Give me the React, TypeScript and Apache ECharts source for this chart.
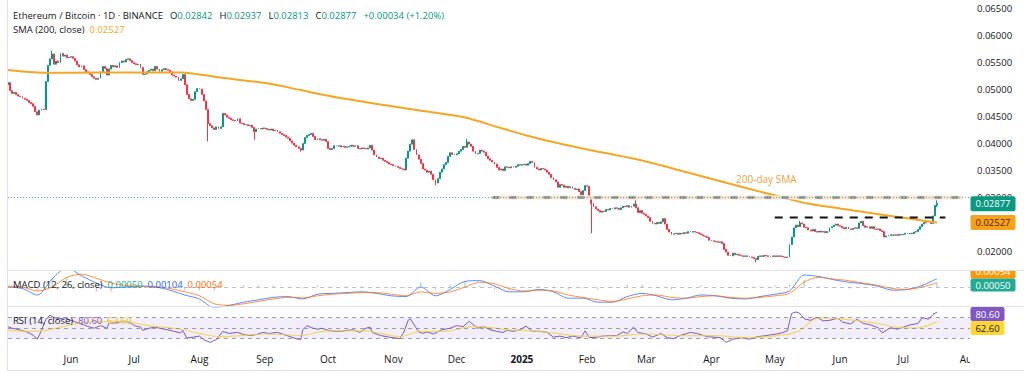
import React, { useEffect, useRef } from "react";
import * as echarts from "echarts";

// ---------- DATA ----------
const firstCandleDate = "2024-05-02";
const firstOpen = 0.0508;

const closesMay2024 = [0.0512, 0.0497, 0.0492, 0.0494, 0.049, 0.0487, 0.0486, 0.0483, 0.0481, 0.0479, 0.0475, 0.0473, 0.0468, 0.0458, 0.0452, 0.0461, 0.0463, 0.0462, 0.0514, 0.0544, 0.0556, 0.0565, 0.0546, 0.0552, 0.0549, 0.0566, 0.0561, 0.0563, 0.0558, 0.0559];
const closesJun2024 = [0.056, 0.0557, 0.0552, 0.0545, 0.0541, 0.0543, 0.0536, 0.0532, 0.053, 0.0527, 0.0523, 0.052, 0.0518, 0.052, 0.0532, 0.0542, 0.0538, 0.0526, 0.0537, 0.0544, 0.0541, 0.0543, 0.054, 0.0549, 0.0552, 0.055, 0.0555, 0.0556, 0.0553, 0.0549];
const closesJul2024 = [0.0547, 0.0545, 0.0546, 0.054, 0.0527, 0.0528, 0.0532, 0.0535, 0.0537, 0.0534, 0.0542, 0.0537, 0.0533, 0.0536, 0.0538, 0.0536, 0.0535, 0.0532, 0.0526, 0.0524, 0.0522, 0.0516, 0.0519, 0.0527, 0.0508, 0.049, 0.0482, 0.0479, 0.0481, 0.0495, 0.0501];
const closesAug2024 = [0.05, 0.049, 0.0478, 0.0462, 0.0436, 0.0432, 0.0428, 0.0425, 0.043, 0.0427, 0.043, 0.0455, 0.0452, 0.0448, 0.0446, 0.0443, 0.0442, 0.0441, 0.0445, 0.0437, 0.0436, 0.0434, 0.0434, 0.0432, 0.0433, 0.0429, 0.0421, 0.0426, 0.0427, 0.0426, 0.0428];
const closesSep2024 = [0.0427, 0.0425, 0.0424, 0.0426, 0.0423, 0.0424, 0.0421, 0.0418, 0.0416, 0.0414, 0.0411, 0.0409, 0.0404, 0.04, 0.0396, 0.0393, 0.039, 0.0387, 0.0399, 0.041, 0.0414, 0.0416, 0.0418, 0.0412, 0.0406, 0.0408, 0.0406, 0.0405, 0.0407, 0.0403];
const closesOct2024 = [0.039, 0.0388, 0.039, 0.0395, 0.0394, 0.0395, 0.0393, 0.0394, 0.0392, 0.0393, 0.0394, 0.0396, 0.0394, 0.0395, 0.039, 0.0389, 0.0391, 0.039, 0.0389, 0.0391, 0.0396, 0.0387, 0.0378, 0.0374, 0.0371, 0.0372, 0.0368, 0.0366, 0.0364, 0.0361, 0.036];
const closesNov2024 = [0.0358, 0.0357, 0.0355, 0.0353, 0.0352, 0.035, 0.0372, 0.0385, 0.0398, 0.0406, 0.0388, 0.0378, 0.037, 0.0362, 0.0352, 0.035, 0.0346, 0.0348, 0.0342, 0.0332, 0.0326, 0.0334, 0.0346, 0.0352, 0.036, 0.0364, 0.0375, 0.0382, 0.0379, 0.0378];
const closesDec2024 = [0.038, 0.0385, 0.0388, 0.0394, 0.0392, 0.0402, 0.0398, 0.0394, 0.0385, 0.038, 0.0381, 0.0387, 0.0385, 0.0383, 0.0376, 0.0371, 0.0368, 0.0365, 0.0361, 0.0355, 0.035, 0.0352, 0.0349, 0.0356, 0.0355, 0.0354, 0.0356, 0.0355, 0.0357, 0.036, 0.0359];
const closesJan2025 = [0.036, 0.0361, 0.0359, 0.0362, 0.0366, 0.0364, 0.0355, 0.0352, 0.035, 0.0353, 0.0352, 0.035, 0.0346, 0.0342, 0.0336, 0.0332, 0.0328, 0.0318, 0.0323, 0.0322, 0.0318, 0.032, 0.0317, 0.0319, 0.0316, 0.0314, 0.0315, 0.031, 0.0304, 0.0312, 0.0321];
const closesFeb2025 = [0.032, 0.03, 0.0288, 0.0282, 0.0278, 0.0275, 0.0272, 0.0274, 0.0273, 0.0277, 0.0276, 0.0279, 0.0278, 0.028, 0.0279, 0.0277, 0.028, 0.0283, 0.0282, 0.0284, 0.0281, 0.0283, 0.0287, 0.028, 0.0271, 0.0275, 0.027, 0.0268];
const closesMar2025 = [0.0265, 0.0262, 0.0255, 0.0251, 0.025, 0.0253, 0.0251, 0.0254, 0.026, 0.025, 0.024, 0.0235, 0.0231, 0.0232, 0.0233, 0.0231, 0.0233, 0.0232, 0.0234, 0.0233, 0.0236, 0.0235, 0.0236, 0.0235, 0.0234, 0.0232, 0.023, 0.0228, 0.0227, 0.0225, 0.022];
const closesApr2025 = [0.0219, 0.0218, 0.0217, 0.0216, 0.0217, 0.0214, 0.0203, 0.0198, 0.0192, 0.0191, 0.0196, 0.0193, 0.0194, 0.0192, 0.0191, 0.019, 0.0191, 0.019, 0.0189, 0.0188, 0.0186, 0.0184, 0.019, 0.0191, 0.019, 0.0192, 0.0191, 0.019, 0.0191, 0.019];
const closesMay2025 = [0.0191, 0.019, 0.0191, 0.019, 0.0189, 0.0188, 0.0189, 0.0212, 0.0226, 0.0243, 0.0248, 0.0245, 0.0252, 0.025, 0.0244, 0.0243, 0.0239, 0.0237, 0.024, 0.0236, 0.0235, 0.0237, 0.0235, 0.0236, 0.0234, 0.0236, 0.0243, 0.0245, 0.0248, 0.025, 0.0247];
const closesJun2025 = [0.0246, 0.0243, 0.0241, 0.0244, 0.0241, 0.024, 0.0242, 0.0243, 0.0242, 0.0252, 0.0255, 0.0247, 0.0244, 0.0245, 0.0242, 0.0245, 0.0241, 0.024, 0.0241, 0.0238, 0.0236, 0.0226, 0.0228, 0.0229, 0.023, 0.0229, 0.023, 0.0229, 0.0231, 0.023];
const closesJul2025 = [0.0231, 0.0233, 0.0232, 0.0233, 0.0232, 0.0235, 0.0236, 0.024, 0.0245, 0.025, 0.0253, 0.0252, 0.0252, 0.0251, 0.0265, 0.02843, 0.02877];

const lastOpen = 0.02842;
const lastHigh = 0.02937;
const lastLow = 0.02813;
const lastClose = 0.02877;
const lastChange = "+0.00034 (+1.20%)";
const smaLast = 0.02527;

const wickDates = ["2024-05-23", "2024-08-05", "2024-08-27", "2024-09-18", "2024-11-21", "2024-12-06", "2025-02-03", "2025-02-24", "2025-04-22", "2025-05-13"];
const wickHighs = [0.0571, null, null, null, null, 0.0408, null, 0.0294, null, 0.0256];
const wickLows = [null, 0.0403, 0.0406, 0.0384, 0.0322, null, 0.0233, null, 0.0179, null];

// SMA(200), day offset from first candle
const smaDay = [0, 17, 44, 82, 91, 101, 123, 139, 148, 158, 194, 216, 234, 249, 265, 281, 300, 324, 348, 367, 379, 395, 411, 427, 441];
const smaValue = [0.05352, 0.05302, 0.05306, 0.05309, 0.05269, 0.05213, 0.05106, 0.04981, 0.04907, 0.04833, 0.04611, 0.04481, 0.04278, 0.04111, 0.03963, 0.03833, 0.03685, 0.03439, 0.03191, 0.03, 0.02883, 0.02787, 0.02694, 0.02606, 0.02527];

// MACD (weekly samples, day = 7 * index)
const macdLine = [0, -0.0002, -0.001, 0.001, 0.0024, 0.0014, 0.0005, -0.0001, 0, 0.0001, 0, -0.0004, -0.001, -0.0015, -0.0026, -0.0023, -0.0019, -0.0016, -0.0013, -0.0012, -0.0015, -0.0009, -0.0008, -0.0007, -0.0006, -0.0008, -0.0011, -0.0012, 0, -0.0011, -0.0003, 0.0007, 0.0008, 0.0001, -0.0006, -0.0006, -0.0003, -0.0006, -0.0014, -0.0014, -0.0019, -0.0019, -0.0012, -0.0008, -0.0011, -0.0016, -0.0014, -0.001, -0.0011, -0.0014, -0.0015, -0.0012, -0.0009, -0.0005, 0.0015, 0.0013, 0.0009, 0.0006, 0.0004, 0.0001, -0.0004, -0.0003, 0.0002, 0.00104];
const signalLine = [0.0001, 0, -0.0005, 0, 0.0012, 0.0016, 0.0011, 0.0005, 0.0002, 0.0001, 0.00005, -0.0002, -0.0006, -0.0011, -0.0021, -0.0023, -0.0021, -0.0018, -0.0015, -0.0013, -0.00135, -0.0011, -0.0009, -0.0008, -0.0007, -0.0007, -0.0009, -0.0011, -0.0006, -0.0008, -0.0006, 0, 0.0006, 0.0004, -0.0002, -0.0005, -0.0004, -0.0005, -0.001, -0.0013, -0.0016, -0.0018, -0.0015, -0.0011, -0.001, -0.0013, -0.0014, -0.0012, -0.0011, -0.0013, -0.0014, -0.0013, -0.0011, -0.0008, 0.0006, 0.0012, 0.001, 0.0008, 0.0005, 0.0002, -0.0002, -0.0003, 0, 0.00054];
const macdHist = [-0.0001, -0.0002, -0.0005, 0.001, 0.0012, -0.0002, -0.0006, -0.0006, -0.0002, 0, -0.00005, -0.0002, -0.0004, -0.0004, -0.0005, 0, 0.0002, 0.0002, 0.0002, 0.0001, -0.00015, 0.0002, 0.0001, 0.0001, 0.0001, -0.0001, -0.0002, -0.0001, 0.0006, -0.0003, 0.0003, 0.0007, 0.0002, -0.0003, -0.0004, -0.0001, 0.0001, -0.0001, -0.0004, -0.0001, -0.0003, -0.0001, 0.0003, 0.0003, -0.0001, -0.0003, 0, 0.0002, 0, -0.0001, -0.0001, 0.0001, 0.0002, 0.0003, 0.0009, 0.0001, -0.0001, -0.0002, -0.0001, -0.0001, -0.0002, 0, 0.0002, 0.0005];

// RSI(14) and its moving average, day offset from first candle
const rsiDay = [0, 2, 6, 9, 12, 14, 15, 18, 20, 22, 25, 27, 30, 32, 34, 37, 39, 41, 44, 47, 48, 51, 53, 56, 58, 60, 63, 64, 67, 70, 72, 77, 79, 82, 83, 85, 88, 91, 93, 96, 97, 99, 102, 105, 109, 112, 115, 118, 121, 124, 128, 131, 134, 137, 139, 140, 142, 144, 147, 149, 152, 155, 158, 161, 164, 167, 170, 172, 173, 177, 181, 186, 188, 190, 191, 192, 195, 197, 199, 202, 204, 206, 210, 213, 216, 219, 223, 226, 229, 232, 235, 237, 240, 243, 246, 249, 253, 256, 259, 262, 265, 268, 272, 274, 276, 280, 282, 286, 289, 292, 294, 297, 299, 303, 306, 310, 313, 316, 319, 324, 327, 332, 338, 341, 344, 348, 352, 356, 360, 365, 368, 370, 372, 374, 376, 378, 381, 384, 387, 390, 394, 396, 400, 403, 406, 409, 413, 415, 419, 422, 425, 428, 432, 434, 437, 439, 441];
const rsiValue = [53, 50, 46.5, 43, 37, 29, 37, 66, 75, 70, 68, 70, 65, 62, 59, 55, 52, 50, 55, 50, 59, 60, 62, 63, 61, 55, 52, 46, 50, 52, 50, 46, 44, 41, 46, 31, 33, 35, 28, 23, 25, 28, 44, 40, 42, 38, 36, 38, 42, 40, 42, 38, 34, 30, 28, 47, 55, 51, 48, 50, 46, 44, 44, 46, 47, 42, 50, 52, 42, 36, 33, 30, 42.6, 65, 68, 62, 43, 40, 43, 39, 43, 47, 50, 55, 53, 63, 50, 53, 47, 44, 42, 46, 44, 47, 54, 44, 44, 42, 33, 35, 32, 35, 32, 45, 32, 33, 35, 36, 36, 43, 40, 52, 42, 39, 33, 40, 32, 30, 36, 42, 40, 34, 32, 23, 29, 32, 29, 34, 36, 39, 42, 45, 78, 81, 78, 68, 65, 71, 64, 65, 69, 62, 58, 67, 59, 57, 51, 41, 51, 48, 52, 56, 59, 70, 67, 76, 80.6];
const rsiMaDay = [0, 13, 18, 25, 39, 53, 67, 82, 91, 101, 110, 123, 139, 147, 154, 170, 177, 186, 196, 208, 218, 224, 237, 248, 259, 272, 287, 303, 319, 335, 351, 367, 375, 382, 386, 398, 414, 422, 430, 441];
const rsiMaValue = [46, 44, 46, 52, 62, 63, 55, 48, 40, 34, 36, 39, 36, 42, 45, 45, 40, 34, 44, 44, 52, 53, 47, 45, 41, 35, 35, 39, 36, 36, 32, 37, 44, 65, 70, 67, 58, 52, 50, 62.6];

// drawn levels
const resistanceLevel = 0.0299;
const resistanceFrom = "2024-12-18";
const resistanceTo = "2025-07-29";
const breakoutLevel = 0.0262;
const breakoutFrom = "2025-05-01";
const breakoutTo = "2025-07-21";
const smaNoteDate = "2025-04-27";
const smaNoteValue = 0.03328;

const monthTickDates = ["2024-06-01", "2024-07-01", "2024-08-01", "2024-09-01", "2024-10-01", "2024-11-01", "2024-12-01", "2025-01-01", "2025-02-01", "2025-03-01", "2025-04-01", "2025-05-01", "2025-06-01", "2025-07-01", "2025-08-01"];
const monthNames = ["Jan", "Feb", "Mar", "Apr", "May", "Jun", "Jul", "Aug", "Sep", "Oct", "Nov", "Dec"];

const macdLegendHist = "0.00050";
const macdLegendMacd = "0.00104";
const macdLegendSignal = "0.00054";
const macdHistLast = 0.0005;
const rsiLast = 80.6;
const rsiMaLast = 62.6;

// ---------- STYLE ----------
const FONT = '"Open Sans", "Liberation Sans", Arial, sans-serif';
const TEXT = "#131722";
const UP = "#089981";
const DOWN = "#f23645";
const SMA_COLOR = "#f5a623";
const MACD_BLUE = "#2962ff";
const MACD_ORANGE = "#ff6d00";
const RSI_PURPLE = "#7e57c2";
const RSI_YELLOW = "#f5cf3f";
const DAY_MS = 86400000;

export default function App() {
  const ref = useRef<HTMLDivElement>(null);

  useEffect(() => {
    const el = ref.current;
    if (!el) return;
    const chart = echarts.init(el, undefined, { renderer: "svg" });

    const t0 = Date.parse(firstCandleDate);
    const dayT = (d: number) => t0 + d * DAY_MS;
    const xMin = t0 + 0.1 * DAY_MS;
    const xMax = xMin + (962 / 2.107) * DAY_MS;

    const closes = [closesMay2024, closesJun2024, closesJul2024, closesAug2024, closesSep2024, closesOct2024, closesNov2024, closesDec2024, closesJan2025, closesFeb2025, closesMar2025, closesApr2025, closesMay2025, closesJun2025, closesJul2025].flat();
    const wickIndex = new Map<number, number>();
    wickDates.forEach((d, i) => wickIndex.set(Date.parse(d), i));

    const candles = closes.map((c, i) => {
      const t = dayT(i);
      const isLast = i === closes.length - 1;
      const o = isLast ? lastOpen : i === 0 ? firstOpen : closes[i - 1];
      let hi = Math.max(o, c);
      let lo = Math.min(o, c);
      if (isLast) {
        hi = lastHigh;
        lo = lastLow;
      }
      const w = wickIndex.get(t);
      if (w !== undefined) {
        if (wickHighs[w] != null) hi = wickHighs[w] as number;
        if (wickLows[w] != null) lo = wickLows[w] as number;
      }
      return [t, o, c, lo, hi];
    });

    const smaData = smaDay.map((d, i) => [dayT(d), smaValue[i]]);
    const macdData = macdLine.map((v, i) => [dayT(i * 7), v]);
    const signalData = signalLine.map((v, i) => [dayT(i * 7), v]);
    const histData = macdHist.map((v, i) => ({
      value: [dayT(i * 7), v],
      itemStyle: { color: v >= 0 ? "rgba(38,166,154,0.55)" : "rgba(239,83,80,0.5)" },
    }));
    const rsiData = rsiDay.map((d, i) => [dayT(d), rsiValue[i]]);
    const rsiMaData = rsiMaDay.map((d, i) => [dayT(d), rsiMaValue[i]]);

    const xAxisBase = (gridIndex: number) => ({
      type: "value",
      gridIndex,
      min: xMin,
      max: xMax,
      axisLine: { show: false },
      axisTick: { show: false },
      splitLine: { show: false },
    });

    const option: any = {
      animation: false,
      backgroundColor: "#ffffff",
      grid: [
        { left: 8, right: 54, top: 0, height: 278 },
        { left: 8, right: 54, top: 271, height: 36 },
        { left: 8, right: 54, top: 307, height: 41 },
      ],
      xAxis: [
        { ...xAxisBase(0), axisLabel: { show: false } },
        { ...xAxisBase(1), axisLabel: { show: false } },
        {
          ...xAxisBase(2),
          axisLabel: {
            show: true,
            customValues: monthTickDates.map((d) => Date.parse(d)),
            formatter: (v: number) => {
              const dt = new Date(v);
              const m = dt.getUTCMonth();
              return m === 0 ? "{y|" + dt.getUTCFullYear() + "}" : monthNames[m];
            },
            color: TEXT,
            fontSize: 10,
            fontFamily: FONT,
            margin: 6,
            rich: { y: { fontWeight: "bold", fontSize: 10, fontFamily: FONT, color: TEXT } },
          },
        },
      ],
      yAxis: [
        {
          type: "value",
          gridIndex: 0,
          position: "right",
          min: 0.015,
          max: 0.0665,
          interval: 0.005,
          axisLine: { show: false },
          axisTick: { show: false },
          splitLine: { show: false },
          axisLabel: {
            margin: 7,
            color: TEXT,
            fontSize: 9.5,
            fontFamily: FONT,
            formatter: (v: number) => (v < 0.0175 || v > 0.0655 ? "" : v.toFixed(5)),
          },
        },
        { type: "value", gridIndex: 1, min: -0.0025, max: 0.002, show: false, splitLine: { show: false } },
        { type: "value", gridIndex: 2, min: 12.3, max: 90.4, show: false, splitLine: { show: false } },
      ],
      series: [
        {
          type: "candlestick",
          xAxisIndex: 0,
          yAxisIndex: 0,
          data: candles,
          encode: { x: 0, y: [1, 2, 3, 4] },
          barWidth: 1.4,
          itemStyle: { color: UP, color0: DOWN, borderColor: UP, borderColor0: DOWN, borderWidth: 1 },
          markLine: {
            silent: true,
            symbol: "none",
            label: { show: false },
            lineStyle: { color: UP, type: [1, 2], width: 1, opacity: 0.7 },
            data: [{ yAxis: lastClose }],
          },
        },
        {
          type: "line",
          xAxisIndex: 0,
          yAxisIndex: 0,
          data: smaData,
          smooth: 0.3,
          symbol: "none",
          lineStyle: { color: SMA_COLOR, width: 2 },
        },
        {
          type: "line",
          xAxisIndex: 0,
          yAxisIndex: 0,
          data: [[Date.parse(resistanceFrom), resistanceLevel], [Date.parse(resistanceTo), resistanceLevel]],
          symbol: "none",
          lineStyle: { color: "#fbe4d2", width: 4 },
        },
        {
          type: "line",
          xAxisIndex: 0,
          yAxisIndex: 0,
          data: [[Date.parse(resistanceFrom), resistanceLevel], [Date.parse(resistanceTo), resistanceLevel]],
          symbol: "none",
          lineStyle: { color: "#a0a0a0", width: 3, type: [7, 10] },
        },
        {
          type: "line",
          xAxisIndex: 0,
          yAxisIndex: 0,
          data: [[Date.parse(breakoutFrom), breakoutLevel], [Date.parse(breakoutTo), breakoutLevel]],
          symbol: "none",
          lineStyle: { color: "#111111", width: 2, type: [8, 7] },
        },
        {
          type: "bar",
          xAxisIndex: 1,
          yAxisIndex: 1,
          data: histData,
          barWidth: 1,
          markLine: {
            silent: true,
            symbol: "none",
            label: { show: false },
            lineStyle: { color: "#9598a1", type: [4, 4], width: 1, opacity: 0.6 },
            data: [{ yAxis: 0 }],
          },
        },
        {
          type: "line",
          xAxisIndex: 1,
          yAxisIndex: 1,
          data: macdData,
          smooth: 0.3,
          symbol: "none",
          lineStyle: { color: MACD_BLUE, width: 1, opacity: 0.75 },
        },
        {
          type: "line",
          xAxisIndex: 1,
          yAxisIndex: 1,
          data: signalData,
          smooth: 0.3,
          symbol: "none",
          lineStyle: { color: MACD_ORANGE, width: 1, opacity: 0.75 },
        },
        {
          type: "line",
          xAxisIndex: 2,
          yAxisIndex: 2,
          data: rsiData,
          symbol: "none",
          lineStyle: { color: RSI_PURPLE, width: 1 },
          markArea: {
            silent: true,
            itemStyle: { color: "rgba(126,87,194,0.1)" },
            data: [[{ yAxis: 70 }, { yAxis: 30 }]],
          },
          markLine: {
            silent: true,
            symbol: "none",
            label: { show: false },
            lineStyle: { color: "#787b86", type: [4, 4], width: 1, opacity: 0.7 },
            data: [{ yAxis: 70 }, { yAxis: 50 }, { yAxis: 30 }],
          },
        },
        {
          type: "line",
          xAxisIndex: 2,
          yAxisIndex: 2,
          data: rsiMaData,
          smooth: 0.4,
          symbol: "none",
          lineStyle: { color: RSI_YELLOW, width: 1.2, opacity: 0.8 },
        },
      ],
    };

    chart.setOption(option);

    const py = (v: number, idx: number) => chart.convertToPixel({ yAxisIndex: idx } as any, v) as unknown as number;
    const noteXY = chart.convertToPixel({ gridIndex: 0 } as any, [Date.parse(smaNoteDate), smaNoteValue]) as unknown as number[];

    const txt = (x: number, y: number, text: string, fill: string, rich?: any) => ({
      type: "text",
      x,
      y,
      z: 60,
      style: {
        text,
        fill,
        fontSize: 9.5,
        fontFamily: FONT,
        align: "left",
        verticalAlign: "middle",
        rich,
      },
    });
    const r = (fill: string, padLeft = 0) => ({ fill, fontSize: 9.5, fontFamily: FONT, padding: [0, 0, 0, padLeft] });

    const tag = (cy: number, label: string, bg: string, fg: string, w: number, h: number) => [
      { type: "rect", z: 70, shape: { x: 970.5, y: cy - h / 2, width: w, height: h, r: 2 }, style: { fill: bg } },
      {
        type: "text",
        z: 71,
        x: 970.5 + w / 2,
        y: cy,
        style: { text: label, fill: fg, fontSize: 9.5, fontFamily: FONT, align: "center", verticalAlign: "middle" },
      },
    ];

    const macdHistY = py(macdHistLast, 1);
    const rsiY = Math.max(py(rsiLast, 2), 314);
    const rsiMaY = Math.max(py(rsiMaLast, 2), rsiY + 14);
    const gap = "  ";

    const graphic: any[] = [
      txt(13, 15.5, "Ethereum / Bitcoin · 1D · BINANCE" + gap + "{k|O}{v|" + lastOpen.toFixed(5) + "}" + gap + "{k|H}{v|" + lastHigh.toFixed(5) + "}" + gap + "{k|L}{v|" + lastLow.toFixed(5) + "}" + gap + "{k|C}{v|" + lastClose.toFixed(5) + "}" + gap + "{c|" + lastChange + "}", TEXT, { k: r(TEXT, 2), v: r(UP), c: r(UP, 2) }),
      txt(13, 29.5, "SMA (200, close)  {o|" + smaLast.toFixed(5) + "}", TEXT, { o: r(SMA_COLOR) }),
      {
        type: "text",
        x: noteXY[0],
        y: noteXY[1],
        z: 60,
        style: { text: "200-day SMA", fill: "#f0a13a", fontSize: 10, fontFamily: FONT, align: "center", verticalAlign: "middle" },
      },
      txt(13, 284, "MACD (12, 26, close)  {h|" + macdLegendHist + "}  {m|" + macdLegendMacd + "}  {s|" + macdLegendSignal + "}", TEXT, { h: r("#22ab94"), m: r(MACD_BLUE), s: r(MACD_ORANGE) }),
      txt(13, 320, "RSI (14, close)  {p|" + rsiLast.toFixed(2) + "}  {y|" + rsiMaLast.toFixed(2) + "}", TEXT, { p: r(RSI_PURPLE), y: r("#e8c23a") }),
      ...tag(py(lastClose, 0), lastClose.toFixed(5), UP, "#ffffff", 45, 15),
      ...tag(py(smaLast, 0), smaLast.toFixed(5), "#f7a21b", "#5a1f00", 45, 15),
      ...tag(271.5, macdLegendSignal, "#ff9800", "#ffffff", 45, 14),
      { type: "rect", z: 72, shape: { x: 969, y: 258, width: 60, height: 12.5 }, style: { fill: "#ffffff" } },
      ...tag(Math.max(macdHistY, 285), macdLegendHist, "#22ab94", "#ffffff", 45, 13),
      ...tag(rsiY, rsiLast.toFixed(2), RSI_PURPLE, "#ffffff", 34, 14),
      ...tag(rsiMaY, rsiMaLast.toFixed(2), "#fdd835", "#131722", 34, 14),
      { type: "rect", z: 72, shape: { x: 970, y: 350, width: 60, height: 19 }, style: { fill: "#ffffff" } },
      { type: "line", z: 80, shape: { x1: 7.5, y1: 0, x2: 7.5, y2: 370 }, style: { stroke: "#e0e3eb", lineWidth: 1 } },
      { type: "line", z: 80, shape: { x1: 7, y1: 370.5, x2: 1024, y2: 370.5 }, style: { stroke: "#e0e3eb", lineWidth: 1 } },
      { type: "line", z: 80, shape: { x1: 7, y1: 270.5, x2: 1024, y2: 270.5 }, style: { stroke: "#e0e3eb", lineWidth: 1 } },
      { type: "line", z: 80, shape: { x1: 7, y1: 306.5, x2: 1024, y2: 306.5 }, style: { stroke: "#e0e3eb", lineWidth: 1 } },
    ];

    chart.setOption({ graphic });

    return () => {
      chart.dispose();
    };
  }, []);

  return (
    <div
      ref={ref}
      style={{ position: "fixed", left: 0, top: 0, width: 1024, height: 373, background: "#ffffff" }}
    />
  );
}
